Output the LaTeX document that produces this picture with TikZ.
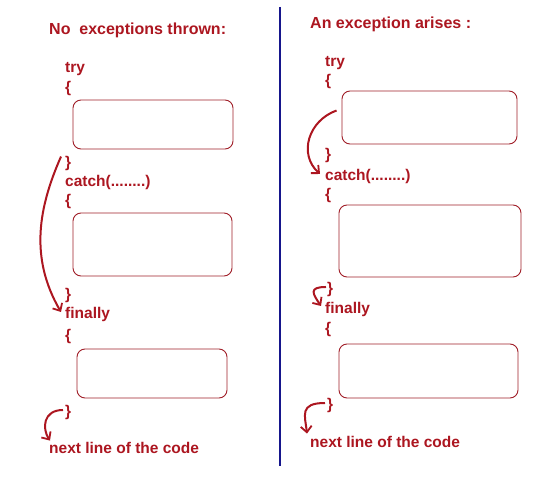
\documentclass[tikz,border=0pt]{standalone}
\usepackage{fontspec}
\setmainfont{Liberation Sans}
\usetikzlibrary{arrows.meta}
\definecolor{CodeRed}{RGB}{172,22,32}
\definecolor{BoxRed}{RGB}{160,30,40}
\definecolor{LineBlue}{RGB}{22,22,140}
\begin{document}
\begin{tikzpicture}
[
x=1pt, y=-1pt,
Title/.style={anchor=base west, inner sep=0pt, text=CodeRed, font=\bfseries\fontsize{16}{18}\selectfont},
Code/.style={anchor=base west, inner sep=0pt, text=CodeRed, font=\bfseries\fontsize{15.5}{18}\selectfont},
CodeBox/.style={rectangle, rounded corners=8pt, draw=BoxRed, line width=0.9pt, inner sep=0pt},
FlowArrow/.style={-{Straight Barb[length=6pt,width=11pt,line width=1.8pt]}, line width=2pt, draw=CodeRed},
Divider/.style={-, draw=LineBlue, line width=2.6pt},
]

\useasboundingbox (0,0) rectangle (555,500);

% left column: no exception
\node[Title] (titleL) at (49,35) {No~ exceptions thrown:};
\node[Code] (tryL) at (65,73) {try};
\node[Code] (openTryL) at (65,93) {\{};
\node[CodeBox, minimum width=160pt, minimum height=49pt] (tryBoxL) at (153,124.5) {};
\node[Code] (closeTryL) at (65,168) {\}};
\node[Code] (catchL) at (65,187) {catch(........)};
\node[Code] (openCatchL) at (65,206) {\{};
\node[CodeBox, minimum width=159pt, minimum height=63pt] (catchBoxL) at (152.5,244.5) {};
\node[Code] (closeCatchL) at (65,300) {\}};
\node[Code] (finallyL) at (65,319) {finally};
\node[Code] (openFinL) at (65,340) {\{};
\node[CodeBox, minimum width=150pt, minimum height=49pt] (finBoxL) at (152,373.5) {};
\node[Code] (closeFinL) at (65,416) {\}};
\node[Code] (nextL) at (49,453) {next line of the code};

% divider
\coordinate (divTop) at (280,7);
\coordinate (divBottom) at (280,466);
\draw[Divider] (divTop) -- (divBottom);

% right column: exception arises
\node[Title] (titleR) at (310,29) {An exception arises :};
\node[Code] (tryR) at (325,67) {try};
\node[Code] (openTryR) at (325,86) {\{};
\node[CodeBox, minimum width=175pt, minimum height=53pt] (tryBoxR) at (429.5,117.5) {};
\node[Code] (closeTryR) at (325,160) {\}};
\node[Code] (catchR) at (325,181) {catch(........)};
\node[Code] (openCatchR) at (325,200) {\{};
\node[CodeBox, minimum width=182pt, minimum height=72pt] (catchBoxR) at (430,241) {};
\node[Code] (closeCatchR) at (327,294) {\}};
\node[Code] (finallyR) at (325,313) {finally};
\node[Code] (openFinR) at (325,334) {\{};
\node[CodeBox, minimum width=179pt, minimum height=54pt] (finBoxR) at (428.5,371) {};
\node[Code] (closeFinR) at (327,409) {\}};
\node[Code] (nextR) at (310,447) {next line of the code};

% flow arrows
\draw[FlowArrow] ([xshift=-4pt]closeTryL.north west) .. controls +(-22,50) and +(-32,-55) .. ([xshift=-4pt,yshift=3pt]finallyL.west);
\draw[FlowArrow] ([xshift=-2pt,yshift=2pt]closeFinL.west) .. controls +(-20,0) and +(-8,-12) .. ([xshift=1pt,yshift=1pt]nextL.north west);

\draw[FlowArrow] ([xshift=-5pt,yshift=7pt]tryBoxR.west) .. controls +(-28,10) and +(-22,-20) .. ([xshift=-5pt,yshift=3pt]catchR.west);
\draw[FlowArrow] ([xshift=-1pt,yshift=3pt]closeCatchR.west) .. controls +(-18,0) and +(-8,-12) .. ([xshift=-4pt,yshift=3pt]finallyR.west);
\draw[FlowArrow] ([xshift=-2pt,yshift=2pt]closeFinR.west) .. controls +(-26,0) and +(-2,-18) .. ([xshift=-3pt,yshift=2pt]nextR.north west);

\end{tikzpicture}
\end{document}
